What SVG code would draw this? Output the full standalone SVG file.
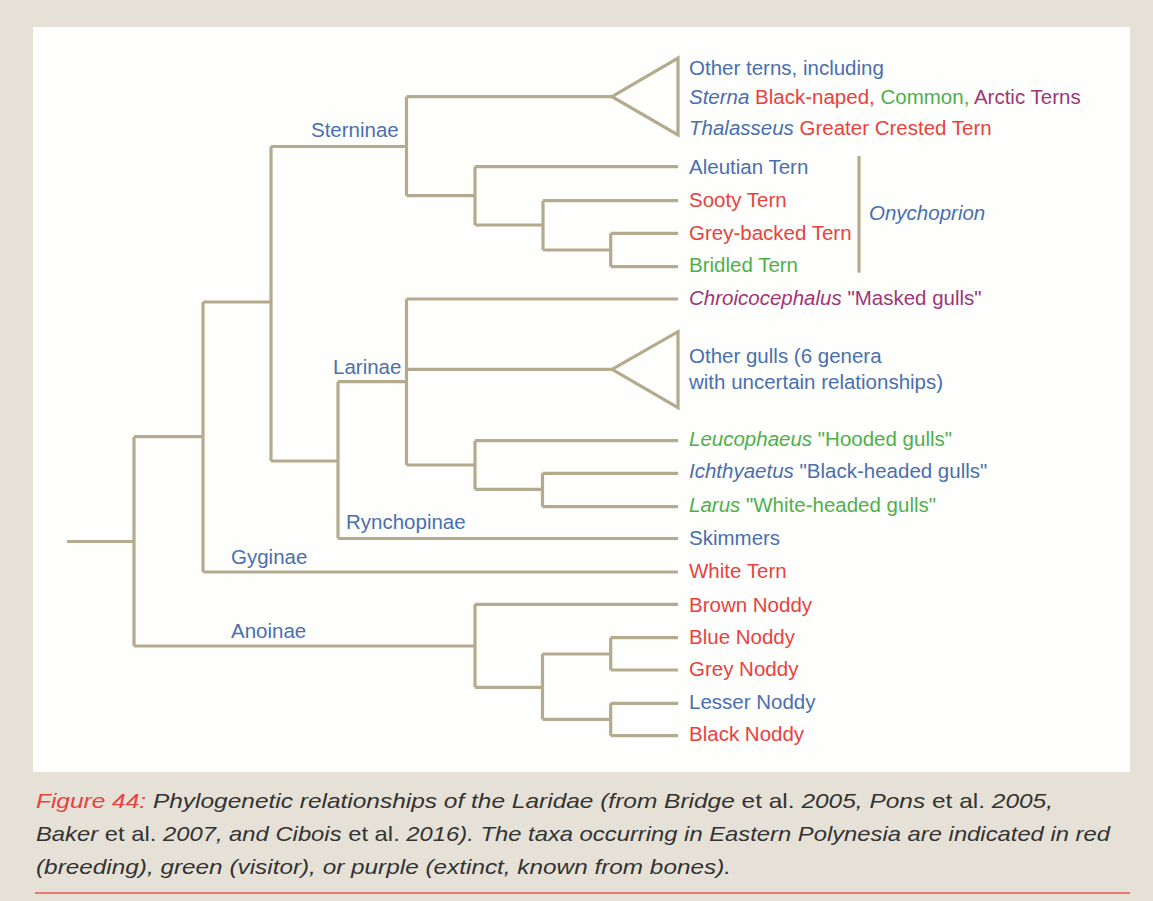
<svg xmlns="http://www.w3.org/2000/svg" width="1153" height="901" viewBox="0 0 1153 901">
<style>
.t{font-family:"Liberation Sans",Arial,sans-serif;font-size:20.5px}
.i{font-style:italic}
.b{fill:#4a6fae}.r{fill:#e8423d}.g{fill:#4fb04a}.p{fill:#a03676}
.br{fill:none;stroke:#b4aa8e;stroke-width:3.2;stroke-linejoin:miter;stroke-linecap:butt}
.cap{font-family:"Liberation Sans",Arial,sans-serif;font-size:21px;font-style:italic;fill:#333}
.n{font-style:normal}
</style>
<rect x="0" y="0" width="1153" height="901" fill="#e6e1d6"/>
<rect x="33" y="27" width="1097" height="745" fill="#fefefc"/>
<g id="connectors" class="br">
<path d="M67 541.5H134M134 436.7V646M134 436.7H203M203 302V572M203 302H271M271 146.5V461M271 146.5H406.5M406.5 96.7V195.7"/>
<path d="M406.5 96.7H612M406.5 195.7H475M475 166.7V225M475 166.7H678M475 225H543M543 200.7V250M543 200.7H678M543 250H610.7M610.7 233.3V266.7M610.7 233.3H678M610.7 266.7H678"/>
<path d="M271 461H338M338 381.7V538.5M338 538.5H678M338 381.7H406.5M406.5 299V465M406.5 299H678M406.5 369.3H612M406.5 465H475M475 440.7V489.3M475 440.7H678M475 489.3H542.5M542.5 473.3V506.7M542.5 473.3H678M542.5 506.7H678"/>
<path d="M203 572H678M134 646H475M475 604.3V687.3M475 604.3H678M475 687.3H542.5M542.5 654V719.3M542.5 654H610.7M610.7 637.7V670M610.7 637.7H678M610.7 670H678M542.5 719.3H610.7M610.7 703.3V735.7M610.7 703.3H678M610.7 735.7H678"/>
<path d="M859 156V272.7"/>
</g>
<g id="tri-terns"><polygon class="br" points="612,96.7 678,58 678,135"/></g>
<g id="tri-gulls"><polygon class="br" points="612,369.3 678,331.7 678,407.7"/></g>
<g id="sub-labels" class="t b">
<text x="311" y="137">Sterninae</text>
<text x="333" y="373.5">Larinae</text>
<text x="346" y="528.5">Rynchopinae</text>
<text x="231" y="563.5">Gyginae</text>
<text x="231" y="637.5">Anoinae</text>
</g>
<g id="other-terns" class="t">
<text x="689" y="75" class="b">Other terns, including</text>
<text x="689" y="104"><tspan class="b i">Sterna</tspan> <tspan class="r">Black-naped,</tspan> <tspan class="g">Common,</tspan> <tspan class="p">Arctic Terns</tspan></text>
<text x="689" y="134.5"><tspan class="b i">Thalasseus</tspan> <tspan class="r">Greater Crested Tern</tspan></text>
</g>
<g id="aleutian" class="t b"><text x="689" y="174">Aleutian Tern</text></g>
<g id="sooty" class="t r"><text x="689" y="207">Sooty Tern</text></g>
<g id="grey-backed" class="t r"><text x="689" y="240">Grey-backed Tern</text></g>
<g id="bridled" class="t g"><text x="689" y="272">Bridled Tern</text></g>
<g id="onychoprion" class="t b i"><text x="869" y="220">Onychoprion</text></g>
<g id="chroicocephalus" class="t p"><text x="689" y="305"><tspan class="i">Chroicocephalus</tspan> "Masked gulls"</text></g>
<g id="other-gulls" class="t b"><text x="689" y="363">Other gulls (6 genera</text><text x="689" y="389">with uncertain relationships)</text></g>
<g id="leucophaeus" class="t g"><text x="689" y="446"><tspan class="i">Leucophaeus</tspan> "Hooded gulls"</text></g>
<g id="ichthyaetus" class="t b"><text x="689" y="478"><tspan class="i">Ichthyaetus</tspan> "Black-headed gulls"</text></g>
<g id="larus" class="t g"><text x="689" y="511.5"><tspan class="i">Larus</tspan> "White-headed gulls"</text></g>
<g id="skimmers" class="t b"><text x="689" y="545">Skimmers</text></g>
<g id="white-tern" class="t r"><text x="689" y="578">White Tern</text></g>
<g id="brown-noddy" class="t r"><text x="689" y="611.5">Brown Noddy</text></g>
<g id="blue-noddy" class="t r"><text x="689" y="643.5">Blue Noddy</text></g>
<g id="grey-noddy" class="t r"><text x="689" y="676">Grey Noddy</text></g>
<g id="lesser-noddy" class="t b"><text x="689" y="709">Lesser Noddy</text></g>
<g id="black-noddy" class="t r"><text x="689" y="741">Black Noddy</text></g>
<g id="caption">
<text class="cap" x="36" y="808" textLength="1017" lengthAdjust="spacingAndGlyphs"><tspan fill="#e8423d">Figure 44:</tspan> Phylogenetic relationships of the Laridae (from Bridge<tspan class="n"> et al. </tspan>2005, Pons<tspan class="n"> et al. </tspan>2005,</text>
<text class="cap" x="36" y="841" textLength="1074" lengthAdjust="spacingAndGlyphs">Baker<tspan class="n"> et al. </tspan>2007, and Cibois<tspan class="n"> et al. </tspan>2016). The taxa occurring in Eastern Polynesia are indicated in red</text>
<text class="cap" x="36" y="874" textLength="695" lengthAdjust="spacingAndGlyphs">(breeding), green (visitor), or purple (extinct, known from bones).</text>
<line x1="35" y1="893" x2="1130" y2="893" stroke="#e8554f" stroke-width="1.5"/>
</g>
</svg>
